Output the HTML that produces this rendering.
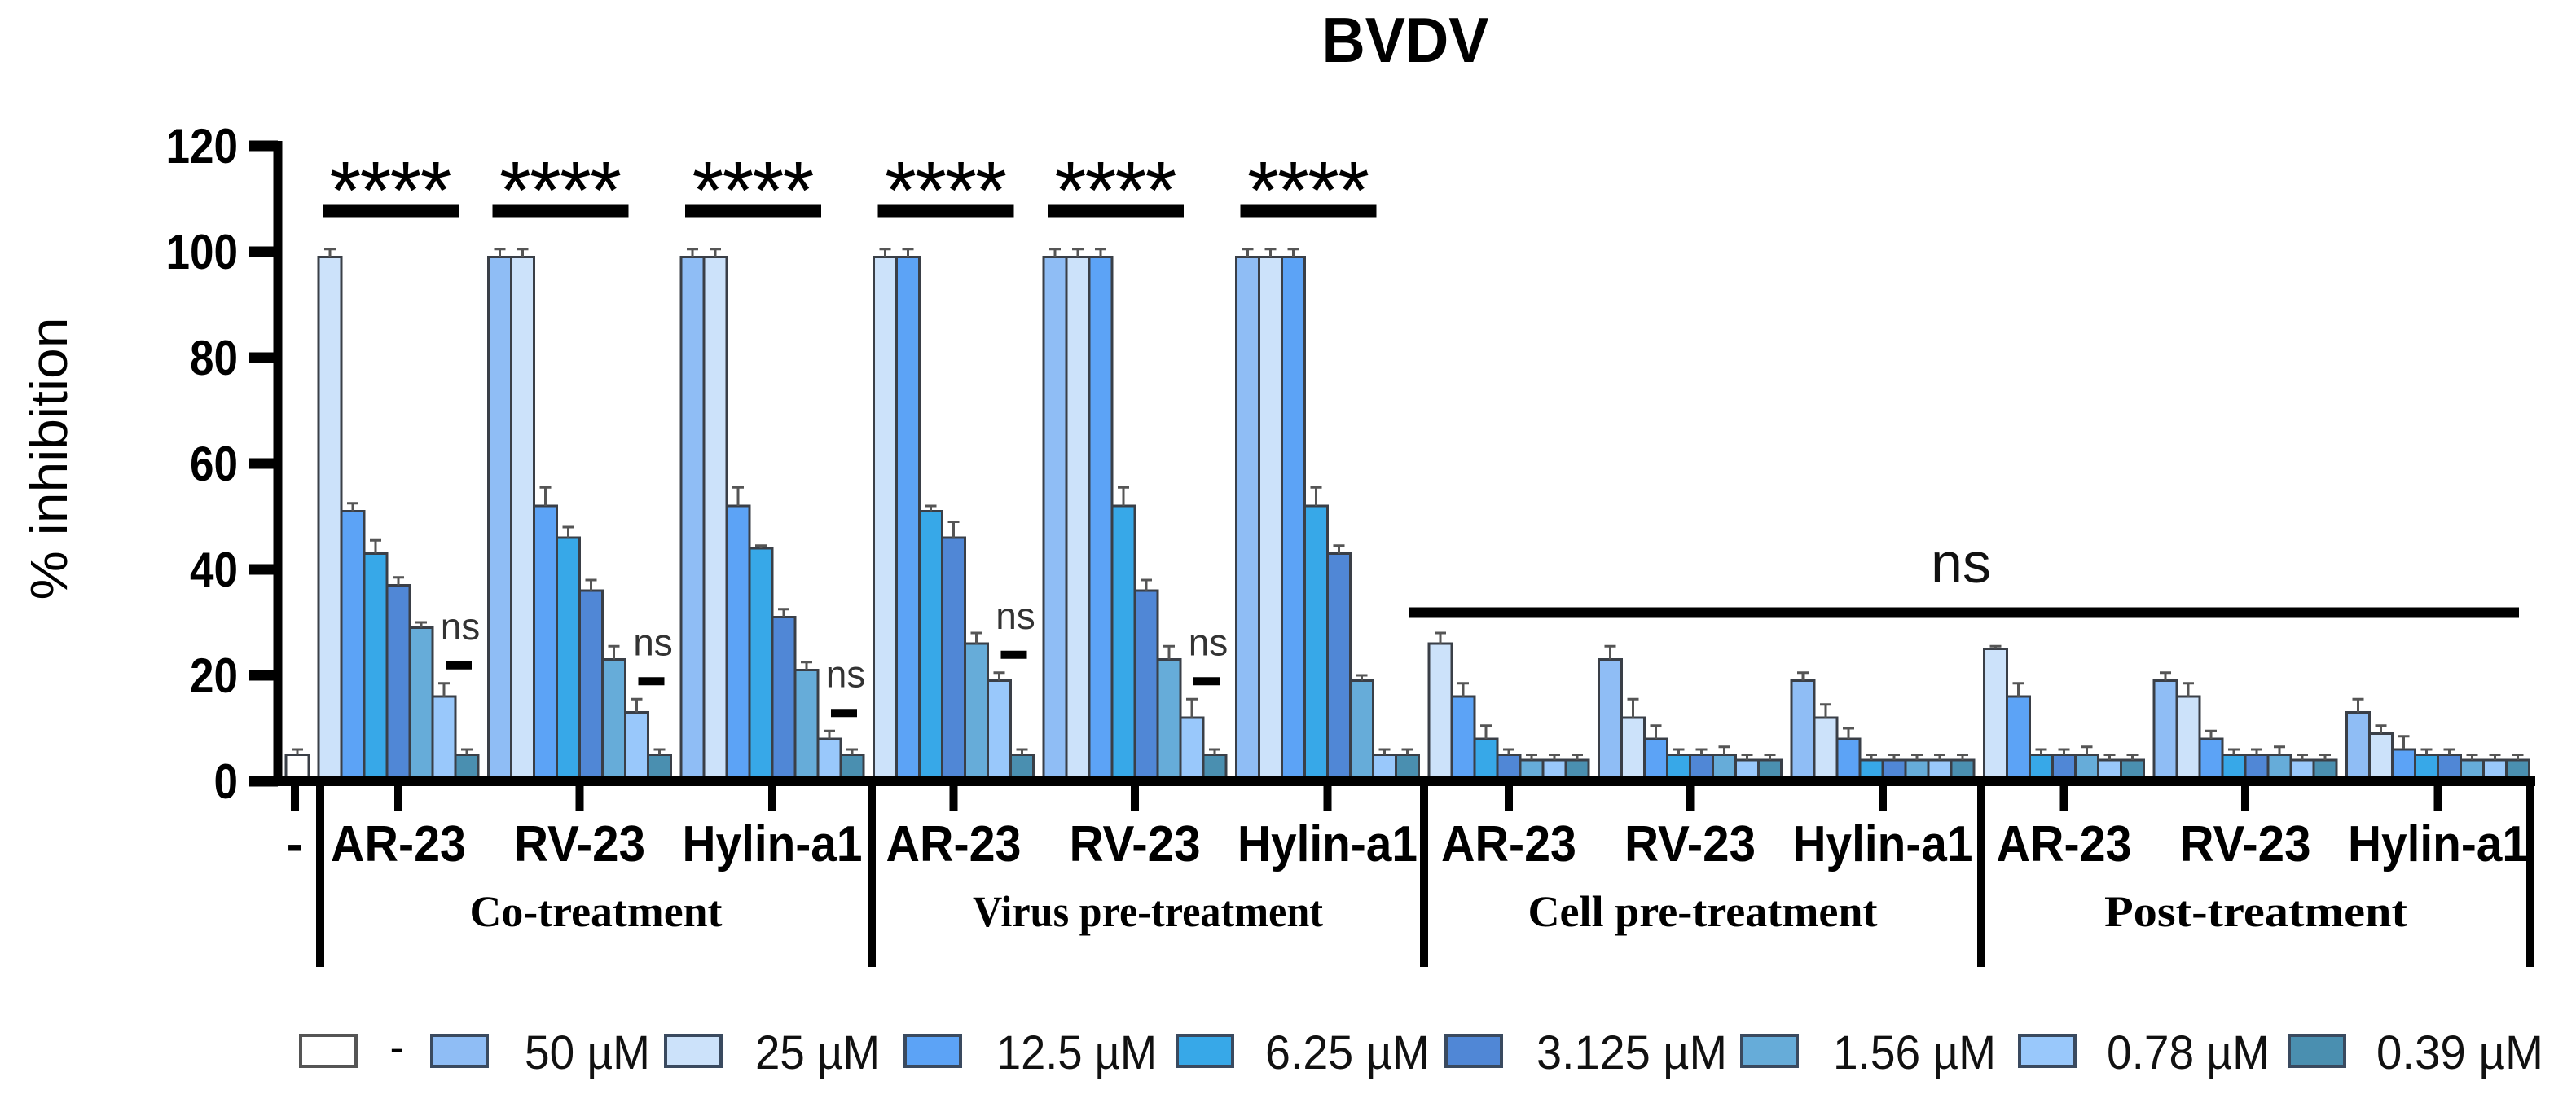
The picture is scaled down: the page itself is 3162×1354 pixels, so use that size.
<!DOCTYPE html>
<html><head><meta charset="utf-8"><title>BVDV % inhibition</title>
<style>html,body{margin:0;padding:0;background:#fff}svg{display:block}</style></head>
<body>
<svg id="chart" width="3162" height="1354" viewBox="0 0 3162 1354" xmlns="http://www.w3.org/2000/svg">
<text x="1725" y="76" text-anchor="middle" font-family="Liberation Sans, sans-serif" font-weight="bold" font-size="78" textLength="205" lengthAdjust="spacingAndGlyphs">BVDV</text>
<text transform="translate(82,563) rotate(-90)" text-anchor="middle" font-family="Liberation Sans, sans-serif" font-size="64" textLength="347" lengthAdjust="spacingAndGlyphs">% inhibition</text>
<g id="plot"></g>
</svg>
<script>
const yTicks = [0, 20, 40, 60, 80, 100, 120];
const seriesLabels = ["50 µM", "25 µM", "12.5 µM", "6.25 µM", "3.125 µM", "1.56 µM", "0.78 µM", "0.39 µM"];
const seriesColors = ["#8fbdf5", "#cce2fa", "#5ca3f6", "#37a8e8", "#5087d6", "#66acd9", "#99c8fb", "#4a8fb0"];
const treatments = ["Co-treatment", "Virus pre-treatment", "Cell pre-treatment", "Post-treatment"];
const compounds = ["AR-23", "RV-23", "Hylin-a1"];
const controlValue = 5;
const controlErr = 1;
// values per group (treatment x compound), series order 50 -> 0.39 µM; null = not shown
const coAR   = [null, 99, 51, 43, 37, 29, 16, 5];
const coRV   = [99, 99, 52, 46, 36, 23, 13, 5];
const coHy   = [99, 99, 52, 44, 31, 21, 8, 5];
const virAR  = [null, 99, 99, 51, 46, 26, 19, 5];
const virRV  = [99, 99, 99, 52, 36, 23, 12, 5];
const virHy  = [99, 99, 99, 52, 43, 19, 5, 5];
const cellAR = [null, 26, 16, 8, 5, 4, 4, 4];
const cellRV = [23, 12, 8, 5, 5, 5, 4, 4];
const cellHy = [19, 12, 8, 4, 4, 4, 4, 4];
const postAR = [null, 25, 16, 5, 5, 5, 4, 4];
const postRV = [19, 16, 8, 5, 5, 5, 4, 4];
const postHy = [13, 9, 6, 5, 5, 4, 4, 4];
const errCoAR   = [0, 1.5, 1.5, 2.5, 1.5, 1, 2.5, 1];
const errCoRV   = [1.5, 1.5, 3.5, 2, 2, 2.5, 2.5, 1];
const errCoHy   = [1.5, 1.5, 3.5, 0.5, 1.5, 1.5, 1.5, 1];
const errVirAR  = [0, 1.5, 1.5, 1, 3, 2, 1.5, 1];
const errVirRV  = [1.5, 1.5, 1.5, 3.5, 2, 2.5, 3.5, 1];
const errVirHy  = [1.5, 1.5, 1.5, 3.5, 1.5, 1, 1, 1];
const errCellAR = [0, 2, 2.5, 2.5, 1, 1, 1, 1];
const errCellRV = [2.5, 3.5, 2.5, 1, 1, 1.5, 1, 1];
const errCellHy = [1.5, 2.5, 2, 1, 1, 1, 1, 1];
const errPostAR = [0, 0.5, 2.5, 1, 1, 1.5, 1, 1];
const errPostRV = [1.5, 2.5, 1.5, 1, 1, 1.5, 1, 1];
const errPostHy = [2.5, 1.5, 2.5, 1, 1, 1, 1, 1];
const groupValues = [coAR, coRV, coHy, virAR, virRV, virHy, cellAR, cellRV, cellHy, postAR, postRV, postHy];
const groupErrors = [errCoAR, errCoRV, errCoHy, errVirAR, errVirRV, errVirHy, errCellAR, errCellRV, errCellHy, errPostAR, errPostRV, errPostHy];
const starGroups = [0, 1, 2, 3, 4, 5];
const starText = "****";
const nsPairs = [0, 1, 2, 3, 4];

const NS = "http://www.w3.org/2000/svg";
const plot = document.getElementById('plot');
const Y0 = 959, PX = 6.5;
function y(v){ return Y0 - v * PX; }
function mk(tag, attrs, parent){
  const e = document.createElementNS(NS, tag);
  for (const k in attrs) e.setAttribute(k, attrs[k]);
  (parent || plot).appendChild(e);
  return e;
}
const BW = 28, GAP = 12.5, START = 391;
const gx = [];
let cx = START;
groupValues.forEach((vals) => {
  const n = vals.filter(v => v !== null).length;
  gx.push(cx);
  cx += n * BW + GAP;
});
function drawBar(x, v, err, color, name){
  const r = mk('rect', {x: x, y: y(v), width: BW, height: Y0 - y(v), fill: color, stroke: '#3a3f47', 'stroke-width': 3});
  
  
  const cxm = x + BW / 2;
  const eb = mk('path', {d: `M${cxm},${y(v)} V${y(v + err)} M${cxm - 7},${y(v + err)} H${cxm + 7}`, stroke: '#555', 'stroke-width': 3, fill: 'none'});
  
  
}
drawBar(351, controlValue, controlErr, '#ffffff', 'bar-control');
const barRanges = [];
groupValues.forEach((vals, g) => {
  let x = gx[g];
  const pos = [];
  vals.forEach((v, s) => {
    if (v === null) { pos.push(null); return; }
    drawBar(x, v, groupErrors[g][s], seriesColors[s], 'bar-' + treatments[Math.floor(g/3)].toLowerCase().replace(/ /g,'-') + '-' + compounds[g%3].toLowerCase() + '-s' + s);
    pos.push(x);
    x += BW;
  });
  barRanges.push(pos);
});
const ya = mk('line', {x1: 341, y1: 173, x2: 341, y2: 965, stroke: '#000', 'stroke-width': 11});


yTicks.forEach(t => {
  const tk = mk('line', {x1: 306, y1: y(t), x2: 341, y2: y(t), stroke: '#000', 'stroke-width': 13});
  
  
  const lb = mk('text', {x: 292, y: y(t) + 21, 'text-anchor': 'end', 'font-family': 'Liberation Sans, sans-serif', 'font-weight': 'bold', 'font-size': 60, textLength: String(t).length * 29.5, lengthAdjust: 'spacingAndGlyphs'});
  lb.textContent = t;
  
  
});
const xa = mk('line', {x1: 336, y1: Y0, x2: 3112, y2: Y0, stroke: '#000', 'stroke-width': 12});


const dividerX = [393, 1070, 1748, 2432, 3106];
dividerX.forEach((d, i) => {
  const l = mk('line', {x1: d, y1: Y0, x2: d, y2: 1187, stroke: '#000', 'stroke-width': 10});
  
  
});
const ctk = mk('line', {x1: 362, y1: Y0, x2: 362, y2: 995, stroke: '#000', 'stroke-width': 10});


const clb = mk('text', {x: 362, y: 1057, 'text-anchor': 'middle', 'font-family': 'Liberation Sans, sans-serif', 'font-weight': 'bold', 'font-size': 62});
clb.textContent = '-';


const labelW = {"AR-23": 166, "RV-23": 161, "Hylin-a1": 221};
groupValues.forEach((vals, g) => {
  const n = vals.filter(v => v !== null).length;
  const tx = gx[g] + (n * BW) / 2;
  const t = mk('line', {x1: tx, y1: Y0, x2: tx, y2: 995, stroke: '#000', 'stroke-width': 10});
  
  
  const name = compounds[g % 3];
  const lb = mk('text', {x: tx, y: 1057, 'text-anchor': 'middle', 'font-family': 'Liberation Sans, sans-serif', 'font-weight': 'bold', 'font-size': 62, textLength: labelW[name], lengthAdjust: 'spacingAndGlyphs'});
  lb.textContent = name;
  
  
});
const treatLen = [310, 430, 429, 372];
treatments.forEach((tname, i) => {
  const c = (dividerX[i] + dividerX[i + 1]) / 2;
  const lb = mk('text', {x: c, y: 1137, 'text-anchor': 'middle', 'font-family': 'Liberation Serif, serif', 'font-weight': 'bold', 'font-size': 54, textLength: treatLen[i], lengthAdjust: 'spacingAndGlyphs'});
  lb.textContent = tname;
  
  
});
starGroups.forEach(g => {
  const x1 = gx[g] + 5, x2 = gx[g] + 172;
  const b = mk('line', {x1: x1, y1: 259, x2: x2, y2: 259, stroke: '#000', 'stroke-width': 15});
  
  
  const s = mk('text', {x: (x1 + x2) / 2, y: 268, 'text-anchor': 'middle', 'font-family': 'Liberation Sans, sans-serif', 'font-size': 100, textLength: 150, lengthAdjust: 'spacing'});
  s.textContent = starText;
  
  
});
nsPairs.forEach(g => {
  const vals = groupValues[g];
  const pos = barRanges[g];
  const hv = vals[6] + groupErrors[g][6];
  const cxp = pos[6] + BW + 4;
  const dy = y(Math.max(hv, vals[7])) - 22;
  const d = mk('line', {x1: cxp - 16, y1: dy, x2: cxp + 16, y2: dy, stroke: '#000', 'stroke-width': 10});
  
  
  const t = mk('text', {x: cxp + 2, y: dy - 32, 'text-anchor': 'middle', 'font-family': 'Liberation Sans, sans-serif', 'font-size': 46, fill: '#333'});
  t.textContent = 'ns';
  
  
});
const bigNs = mk('line', {x1: 1730, y1: 752, x2: 3092, y2: 752, stroke: '#000', 'stroke-width': 13});


const bigNsT = mk('text', {x: 2407, y: 715, 'text-anchor': 'middle', 'font-family': 'Liberation Sans, sans-serif', 'font-size': 70, fill: '#111'});
bigNsT.textContent = 'ns';


const legendSwX = [530, 817, 1111, 1445, 1775, 2138, 2479, 2810];
const legendTxX = [644, 927, 1223, 1553, 1886, 2250, 2586, 2917];
const legendTxW = [154, 153, 197, 202, 234, 200, 200, 205];
const lc = mk('rect', {x: 369, y: 1271, width: 68, height: 38, fill: '#fff', stroke: '#555', 'stroke-width': 4});


const lct = mk('text', {x: 487, y: 1303, 'text-anchor': 'middle', 'font-family': 'Liberation Sans, sans-serif', 'font-size': 50});
lct.textContent = '-';


seriesLabels.forEach((lab, i) => {
  const r = mk('rect', {x: legendSwX[i], y: 1271, width: 68, height: 38, fill: seriesColors[i], stroke: '#3a4a5f', 'stroke-width': 4});
  
  
  const t = mk('text', {x: legendTxX[i], y: 1312, 'font-family': 'Liberation Sans, sans-serif', 'font-size': 58, textLength: legendTxW[i], lengthAdjust: 'spacingAndGlyphs', fill: '#111'});
  t.textContent = lab;
  
  
});
</script>
</body></html>
